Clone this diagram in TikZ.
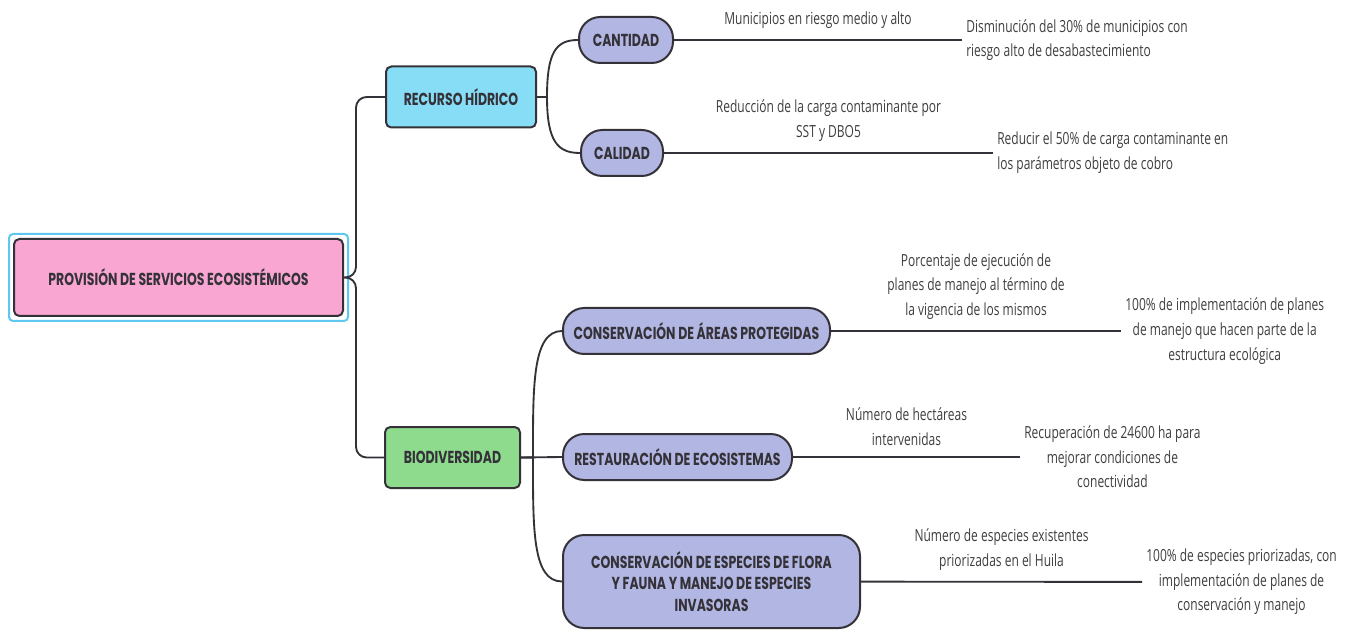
\documentclass[tikz,border=0pt]{standalone}
\usepackage{fontspec}
\usetikzlibrary{calc, fit, positioning}
\newfontfamily\boxfont[FakeStretch=0.72]{Poppins}
\newfontfamily\notefont[FakeStretch=0.72]{Open Sans}
\definecolor{mypink1}{RGB}{249, 166, 210}
\definecolor{mycyan1}{RGB}{134, 221, 245}
\definecolor{mygreen1}{RGB}{142, 219, 142}
\definecolor{mylavender1}{RGB}{178, 182, 226}
\definecolor{myframe}{RGB}{95, 200, 240}
\definecolor{mydark}{RGB}{52, 50, 56}
\definecolor{mytext}{RGB}{62, 62, 62}

\begin{document}
\begin{tikzpicture}[x=0.75pt, y=-0.75pt,
  topic/.style={draw=mydark, line width=1.5pt, rounded corners=4pt, text=mydark, align=center,
    inner sep=0pt, font=\boxfont\bfseries\fontsize{13}{16}\selectfont},
  pill/.style={topic, fill=mylavender1, rounded corners=16pt},
  link/.style={mydark, line width=1.4pt},
  note/.style={text=mytext, align=center, inner sep=3pt, font=\notefont\fontsize{12.5}{18.5}\selectfont}]
  \useasboundingbox (0,0) rectangle (1355,630);
  % Root
  \node[topic, fill=mypink1, minimum width=246.75pt, minimum height=57.75pt] (root) at (178.5,277.5)
    {PROVISIÓN DE SERVICIOS ECOSISTÉMICOS};
  \node[draw=myframe, line width=1.5pt, rounded corners=3pt, inner sep=3pt, fit=(root)] (rootsel) {};
  % Main topics
  \node[topic, fill=mycyan1, minimum width=112.5pt, minimum height=45.75pt] (recurso) at (461,97) {RECURSO HÍDRICO};
  \node[topic, fill=mygreen1, minimum width=101.25pt, minimum height=45.75pt] (bio) at (452.5,457.5) {BIODIVERSIDAD};
  \draw[link, rounded corners=8pt] (root.east) -- ++(12,0) |- (recurso.west);
  \draw[link, rounded corners=8pt] (root.east) -- ++(12,0) |- (bio.west);
  % Subtopics
  \node[pill, minimum width=70.5pt, minimum height=34.5pt] (cant) at (626,40) {CANTIDAD};
  \node[pill, minimum width=61.5pt, minimum height=34.5pt] (cali) at (622,153) {CALIDAD};
  \node[pill, minimum width=200.25pt, minimum height=34.5pt] (areas) at (696.5,331) {CONSERVACIÓN DE ÁREAS PROTEGIDAS};
  \node[pill, minimum width=171.75pt, minimum height=34.5pt] (resta) at (677.5,457) {RESTAURACIÓN DE ECOSISTEMAS};
  \node[pill, minimum width=222.75pt, minimum height=69.75pt] (espec) at (711.5,581.5)
    {CONSERVACIÓN DE ESPECIES DE FLORA\\Y FAUNA Y MANEJO DE ESPECIES\\INVASORAS};
  \draw[link] (recurso.east) -- ++(10,0) .. controls +(0,-45) and +(-22,0) .. (cant.west);
  \draw[link] (recurso.east) -- ++(10,0) .. controls +(0,45) and +(-22,0) .. (cali.west);
  \draw[link] (bio.east) -- (resta.west);
  \draw[link] (bio.east) -- ++(12,0) .. controls +(0,-70) and +(-30,0) .. (areas.west);
  \draw[link] (bio.east) -- ++(12,0) .. controls +(0,70) and +(-30,0) .. (espec.west);
  % Goals
  \node[note, anchor=west, align=left] (cantgoal) at (962,40)
    {Disminución del 30\% de municipios con\\riesgo alto de desabastecimiento};
  \node[note, anchor=west, align=left] (caligoal) at (993,153)
    {Reducir el 50\% de carga contaminante en\\los parámetros objeto de cobro};
  \node[note, anchor=west] (areasgoal) at (1121,331)
    {100\% de implementación de planes\\de manejo que hacen parte de la\\estructura ecológica};
  \node[note, anchor=west] (restagoal) at (1020,457)
    {Recuperación de 24600 ha para\\mejorar condiciones de\\conectividad};
  \node[note, anchor=west] (especgoal) at (1142,582)
    {100\% de especies priorizadas, con\\implementación de planes de\\conservación y manejo};
  % Indicators
  \draw[link] (cant) -- (cantgoal) node[note, midway, above=5pt] {Municipios en riesgo medio y alto};
  \draw[link] (cali) -- (caligoal) node[note, midway, above=5pt] {Reducción de la carga contaminante por\\SST y DBO5};
  \draw[link] (areas) -- (areasgoal) node[note, midway, above=5pt]
    {Porcentaje de ejecución de\\planes de manejo al término de\\la vigencia de los mismos};
  \draw[link] (resta) -- (restagoal) node[note, midway, above=5pt] {Número de hectáreas\\intervenidas};
  \draw[link] (espec) -- (especgoal) node[note, midway, above=5pt]
    {Número de especies existentes\\priorizadas en el Huila};
\end{tikzpicture}
\end{document}
